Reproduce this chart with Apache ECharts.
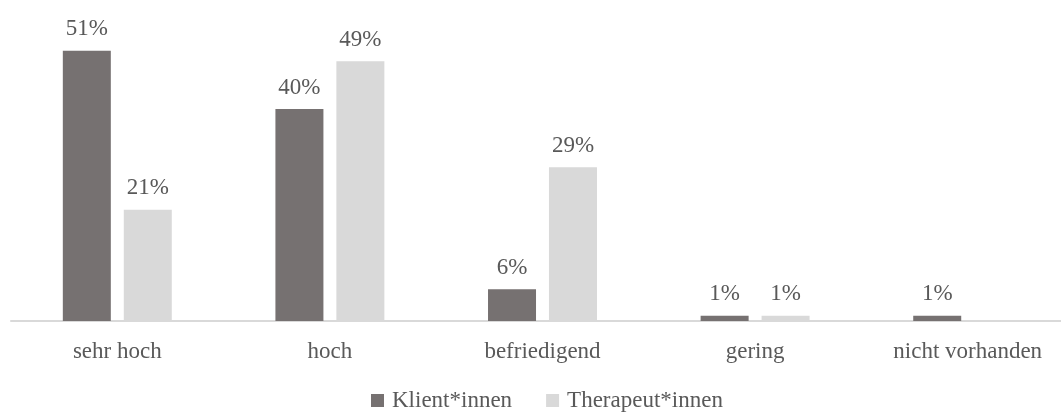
<!DOCTYPE html>
<html>
<head>
<meta charset="utf-8">
<script src="https://cdn.jsdelivr.net/npm/echarts@6/dist/echarts.min.js"></script>
<style>
  html, body { margin: 0; padding: 0; background: #fff; }
  #chart { width: 1061px; height: 412px; }
</style>
</head>
<body>
<div id="chart"></div>
<script>
const categories = ['sehr hoch', 'hoch', 'befriedigend', 'gering', 'nicht vorhanden'];
const klienten = [51, 40, 6, 1, 1];
const therapeuten = [21, 49, 29, 1, null];
const seriesNames = ['Klient*innen', 'Therapeut*innen'];

const chart = echarts.init(document.getElementById('chart'));
const font = '"Liberation Serif", "Times New Roman", serif';

const label = {
  show: true,
  position: 'top',
  distance: 10,
  color: '#595959',
  fontFamily: font,
  fontSize: 23,
  formatter: function (p) { return p.value + '%'; }
};

chart.setOption({
  animation: false,
  // the plot runs a little past the right edge of the picture
  grid: { left: 11, width: 1063, top: 3, bottom: 91, outerBoundsMode: 'none' },
  legend: {
    data: seriesNames,
    left: 366,
    top: 384,
    itemWidth: 13,
    itemHeight: 13,
    itemGap: 34,
    icon: 'rect',
    textStyle: { color: '#595959', fontFamily: font, fontSize: 23, padding: [0, 0, 0, 3] }
  },
  xAxis: {
    type: 'category',
    data: categories,
    axisTick: { show: false },
    axisLine: { lineStyle: { color: '#d9d9d9', width: 2 } },
    axisLabel: { color: '#595959', fontFamily: font, fontSize: 23, margin: 19 }
  },
  yAxis: {
    type: 'value',
    min: 0,
    max: 60,
    show: false,
    splitLine: { show: false }
  },
  series: [
    {
      name: seriesNames[0],
      type: 'bar',
      data: klienten,
      barWidth: 48,
      barGap: '27%',
      itemStyle: { color: '#767171' },
      label: label
    },
    {
      name: seriesNames[1],
      type: 'bar',
      data: therapeuten,
      barWidth: 48,
      itemStyle: { color: '#d9d9d9' },
      label: label
    }
  ]
});
</script>
</body>
</html>
